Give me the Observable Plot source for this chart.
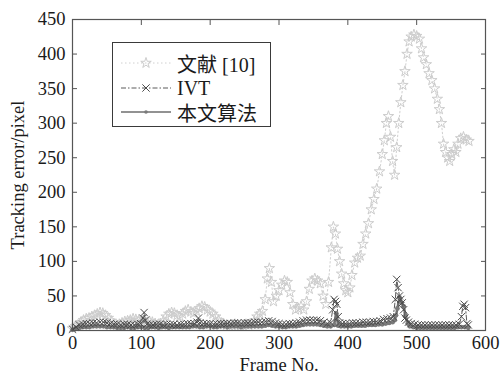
<!DOCTYPE html>
<html lang="en"><head><meta charset="utf-8">
<script src="https://cdn.jsdelivr.net/npm/d3@7"></script>
<script src="https://cdn.jsdelivr.net/npm/@observablehq/plot@0.6"></script>
<style>
body{margin:0;background:#fff}
#wrap{position:relative;width:500px;height:376px;overflow:hidden}
#legend{position:absolute;left:112px;top:42px;width:157px;height:83px;border:1.5px solid #3a3a3a;background:#fff;font-family:'Liberation Serif','Noto Sans CJK SC',serif;font-size:20px;color:#1a1a1a}
.row{position:absolute;left:0;height:24px;display:flex;align-items:center}
.row svg{display:block;margin-left:6px}
.row span{margin-left:4px;white-space:nowrap}
.lat{font-family:'Liberation Serif',serif}
.cjk{font-family:'Noto Sans CJK SC',sans-serif}
</style></head><body><div id="wrap"></div>
<script>
const seriesNames = ["文献 [10]", "IVT", "本文算法"];
const xTicks = [0, 100, 200, 300, 400, 500, 600];
const yTicks = [0, 50, 100, 150, 200, 250, 300, 350, 400, 450];

const ref10Frames = [0,4,8,12,16,20,24,28,32,36,40,44,48,52,56,60,64,68,72,76,80,84,88,92,96,100,104,108,112,116,120,124,128,132,136,140,144,148,152,156,160,164,168,172,176,180,184,188,192,196,200,204,208,212,216,220,224,228,232,236,240,244,248,252,256,260,264,268,272,276,280,283,286,289,292,296,300,304,308,312,316,320,324,328,332,336,340,344,348,352,356,360,364,368,372,376,379,382,385,388,391,394,397,400,403,406,410,414,418,422,426,430,434,438,442,446,450,453,456,459,462,465,468,471,474,477,480,483,486,489,492,496,500,504,507,510,514,518,522,526,530,533,536,539,542,545,548,551,554,557,560,564,568,572,576];
const ref10Values = [3,6,8,12,15,17,18,20,22,24,26,25,22,18,14,10,8,9,11,13,14,15,17,16,14,12,10,11,13,12,10,8,10,14,20,24,26,25,22,20,24,28,30,27,25,28,32,35,34,30,27,24,20,15,11,9,8,7,8,9,8,7,8,9,8,10,14,20,24,28,45,75,90,70,42,50,58,66,72,70,55,38,30,32,35,30,42,60,72,75,72,68,50,38,70,120,150,140,118,100,82,68,58,55,62,80,98,105,108,125,140,155,175,190,205,230,255,275,300,310,280,245,225,265,300,330,355,375,400,418,425,428,426,422,408,395,385,372,362,350,335,320,300,270,258,250,245,255,262,258,270,278,280,276,274];

const ivtFrames = [0,5,10,15,20,25,30,35,40,45,50,55,60,65,70,75,80,85,90,95,99,102,104,106,108,112,117,122,127,132,137,142,147,152,157,162,167,172,177,181,183,185,190,195,200,205,210,215,220,225,230,235,240,245,250,255,260,265,270,275,280,285,290,295,300,305,310,315,320,325,330,335,340,345,350,355,360,365,370,375,378,380,382,384,386,388,392,397,402,407,412,417,422,427,432,437,442,447,452,457,462,466,469,471,473,475,477,479,481,483,485,488,492,497,502,507,512,517,522,527,532,537,542,547,552,557,562,565,567,569,571,573,575];
const ivtValues = [2,5,8,9,10,10,11,11,12,12,11,10,9,9,8,9,9,8,8,9,10,18,26,15,9,8,8,9,9,8,9,9,9,8,9,9,10,10,10,12,18,11,10,10,10,9,9,10,10,10,10,11,11,10,11,11,11,12,12,12,13,14,13,11,10,9,9,10,10,11,12,14,15,15,15,15,14,12,10,11,30,45,42,38,20,11,10,10,10,11,11,11,12,12,12,13,13,14,16,17,18,20,45,74,62,50,45,40,30,18,15,12,10,9,8,8,8,8,8,8,8,8,8,8,8,8,9,20,35,38,33,10,8];

const oursFrames = [0,5,10,15,20,25,30,35,40,45,50,55,60,65,70,75,80,85,90,95,100,105,110,115,120,125,130,135,140,145,150,155,160,165,170,175,180,185,190,195,200,205,210,215,220,225,230,235,240,245,250,255,260,265,270,275,280,285,290,295,300,305,310,315,320,325,330,335,340,345,350,355,360,365,370,375,380,383,386,390,395,400,405,410,415,420,425,430,435,440,445,450,455,460,465,468,470,472,475,478,481,484,487,490,495,500,505,510,515,520,525,530,535,540,545,550,555,560,565,570,575];
const oursValues = [1,3,4,5,5,5,6,6,6,6,5,5,5,4,4,4,5,4,4,5,5,4,4,5,5,4,5,5,4,5,5,5,5,5,5,6,6,5,5,6,6,5,5,6,6,5,6,6,6,5,6,6,6,6,6,6,7,8,7,6,6,5,5,6,6,6,7,8,9,9,9,9,8,7,6,6,8,25,7,6,6,6,6,7,7,7,7,8,8,8,9,9,10,11,12,15,22,32,48,40,35,22,10,6,5,4,4,4,4,4,4,4,4,4,4,4,4,5,5,5,4];

const ref10 = ref10Frames.map((f, i) => ({s: seriesNames[0], frame: f, err: ref10Values[i]}));
const ivt = ivtFrames.map((f, i) => ({s: seriesNames[1], frame: f, err: ivtValues[i]}));
const ours = oursFrames.map((f, i) => ({s: seriesNames[2], frame: f, err: oursValues[i]}));

const styles = [
  {stroke: "#d0d0d0", dash: "1.5,2.5", width: 1, symbol: "star", r: 3.3, fill: "none", mstroke: "#cccccc"},
  {stroke: "#5a5a5a", dash: "5,2,1.5,2", width: 1, symbol: "times", r: 3.4, fill: "none", mstroke: "#4a4a4a"},
  {stroke: "#6e6e6e", dash: null, width: 2.5, symbol: "circle", r: 2.4, fill: "#7a7a7a", mstroke: "none"}
];

const chart = Plot.plot({
  width: 500, height: 376,
  marginTop: 19, marginBottom: 46, marginLeft: 72, marginRight: 15,
  style: {fontFamily: "'Liberation Serif', serif", fontSize: "18.5px", color: "#1a1a1a", background: "#fff"},
  x: {domain: [0, 600]},
  y: {domain: [0, 450]},
  marks: [
    Plot.line(ref10, {x: "frame", y: "err", stroke: styles[0].stroke, strokeDasharray: styles[0].dash, strokeWidth: styles[0].width}),
    Plot.dot(ref10, {x: "frame", y: "err", symbol: styles[0].symbol, r: styles[0].r, stroke: styles[0].mstroke, fill: "none", strokeWidth: 1}),
    Plot.line(ours, {x: "frame", y: "err", stroke: styles[2].stroke, strokeWidth: styles[2].width}),
    Plot.dot(ours, {x: "frame", y: "err", symbol: "circle", r: styles[2].r, fill: styles[2].fill, stroke: "none"}),
    Plot.line(ivt, {x: "frame", y: "err", stroke: styles[1].stroke, strokeDasharray: styles[1].dash, strokeWidth: styles[1].width}),
    Plot.dot(ivt, {x: "frame", y: "err", symbol: "times", r: styles[1].r, stroke: styles[1].mstroke, strokeWidth: 1}),
    Plot.frame({stroke: "#555", strokeWidth: 1.2}),
    Plot.axisX({anchor: "bottom", ticks: xTicks, tickSize: -5, tickPadding: 10, label: "Frame No.", labelArrow: "none", labelAnchor: "center", labelOffset: 40, stroke: "#555"}),
    Plot.axisX({anchor: "top", ticks: xTicks, tickSize: -5, tickFormat: () => "", label: null, stroke: "#555"}),
    Plot.axisY({anchor: "left", ticks: yTicks, tickSize: -5, tickPadding: 12, label: "Tracking error/pixel", labelArrow: "none", labelAnchor: "center", labelOffset: 62, stroke: "#555"}),
    Plot.axisY({anchor: "right", ticks: yTicks, tickSize: -5, tickFormat: () => "", label: null, stroke: "#555"})
  ]
});
const wrap = document.getElementById("wrap");
wrap.appendChild(chart);

// legend
const leg = document.createElement("div");
leg.id = "legend";
const rowTops = [8, 33, 57];
seriesNames.forEach((name, i) => {
  const st = styles[i];
  const row = document.createElement("div");
  row.className = "row";
  row.style.top = rowTops[i] + "px";
  const ns = "http://www.w3.org/2000/svg";
  const svg = document.createElementNS(ns, "svg");
  svg.setAttribute("width", 54); svg.setAttribute("height", 24);
  const line = document.createElementNS(ns, "line");
  line.setAttribute("x1", 2); line.setAttribute("x2", 52); line.setAttribute("y1", 12); line.setAttribute("y2", 12);
  line.setAttribute("stroke", st.stroke); line.setAttribute("stroke-width", Math.min(st.width, 1.3));
  if (st.dash) line.setAttribute("stroke-dasharray", st.dash);
  svg.appendChild(line);
  const mk = document.createElementNS(ns, "path");
  const sym = st.symbol === "star" ? d3.symbolStar : st.symbol === "times" ? d3.symbolTimes : d3.symbolCircle;
  const rr = st.symbol === "circle" ? 1.8 : st.r;
  mk.setAttribute("d", d3.symbol(sym, Math.PI * rr * rr)());
  mk.setAttribute("transform", "translate(27,12)");
  mk.setAttribute("fill", st.fill);
  mk.setAttribute("stroke", st.mstroke);
  svg.appendChild(mk);
  row.appendChild(svg);
  const t = document.createElement("span");
  // split into CJK and Latin runs so Latin uses the serif face
  const runs = name.match(/[\u3400-\u9fff]+|[^\u3400-\u9fff]+/g);
  runs.forEach(r => {
    const s = document.createElement("span");
    s.style.margin = "0";
    s.className = /[\u3400-\u9fff]/.test(r) ? "cjk" : "lat";
    s.textContent = r;
    t.appendChild(s);
  });
  row.appendChild(t);
  leg.appendChild(row);
});
wrap.appendChild(leg);
</script>
</body></html>
